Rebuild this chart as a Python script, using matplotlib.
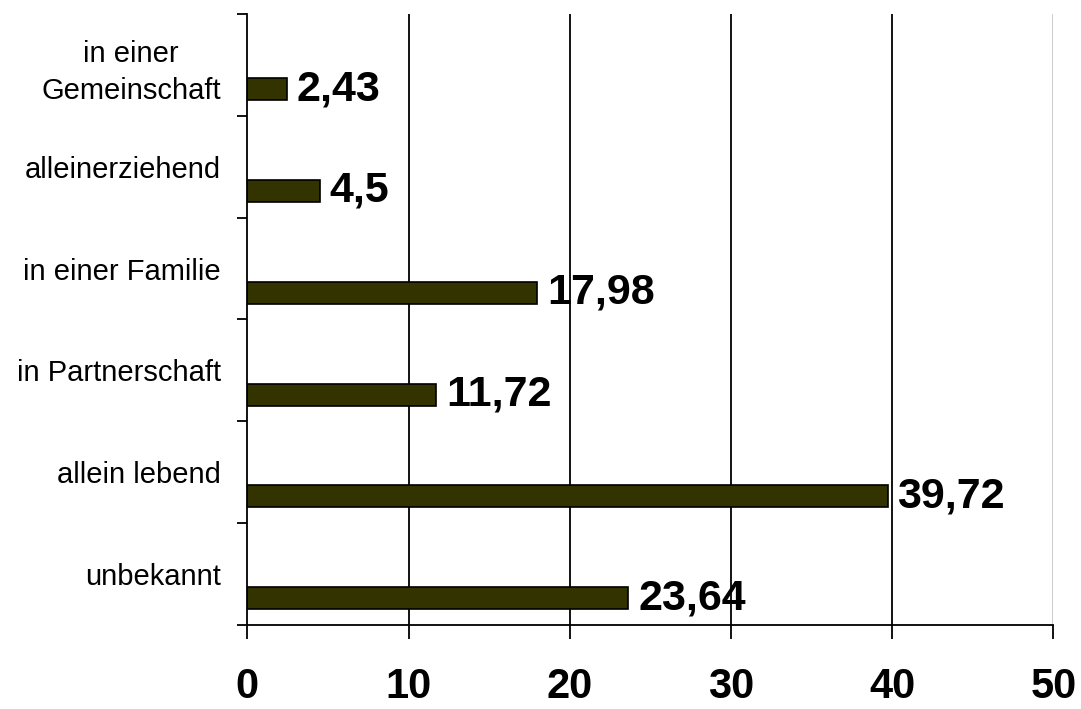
import matplotlib
matplotlib.use("Agg")
import matplotlib.pyplot as plt
from matplotlib.ticker import FixedLocator
import numpy as np

categories = ["unbekannt", "allein lebend", "in Partnerschaft", "in einer Familie",
              "alleinerziehend", "in einer\nGemeinschaft"]
values = [23.64, 39.72, 11.72, 17.98, 4.5, 2.43]
value_labels = ["23,64", "39,72", "11,72", "17,98", "4,5", "2,43"]
x_ticks = [0, 10, 20, 30, 40, 50]

plt.rcParams['font.family'] = ['Liberation Sans', 'DejaVu Sans']

fig = plt.figure(figsize=(10.81, 7.09), dpi=100)
ax = fig.add_axes([0.2288, 0.1185, 0.9744 - 0.2288, 0.9803 - 0.1185])

y = np.arange(len(categories))
ax.set_xlim(0, 50)
ax.set_ylim(-0.5, len(categories) - 0.5)

for xv in x_ticks[1:]:
    ax.axvline(xv, color='#000000' if xv < 50 else '#c8c8c8', lw=1.3, zorder=0)

ax.barh(y - 0.238, values, height=0.216, color='#333300', edgecolor='black',
        linewidth=1.2, zorder=2)

for yi, v, lab in zip(y, values, value_labels):
    ax.annotate(lab, (v, yi - 0.238), xytext=(7, 0), textcoords='offset points',
                ha='left', va='center', fontsize=31, fontweight='bold', zorder=3)

ax.set_yticks(y)
ax.set_yticklabels(categories, fontsize=21, multialignment='center',
                   linespacing=1.4)
ax.yaxis.set_minor_locator(FixedLocator(np.arange(-0.5, len(categories), 1.0)))
ax.tick_params(axis='y', which='major', length=0, pad=19)
ax.tick_params(axis='y', which='minor', length=7.5, width=1.3, direction='out')

ax.set_xticks(x_ticks)
ax.set_xticklabels([str(t) for t in x_ticks], fontsize=30, fontweight='bold')
ax.tick_params(axis='x', which='major', length=10, width=1.3, direction='out', pad=20)

for s in ['top', 'right']:
    ax.spines[s].set_visible(False)
for s in ['left', 'bottom']:
    ax.spines[s].set_linewidth(1.3)

fig.savefig("out.png", dpi=100)
